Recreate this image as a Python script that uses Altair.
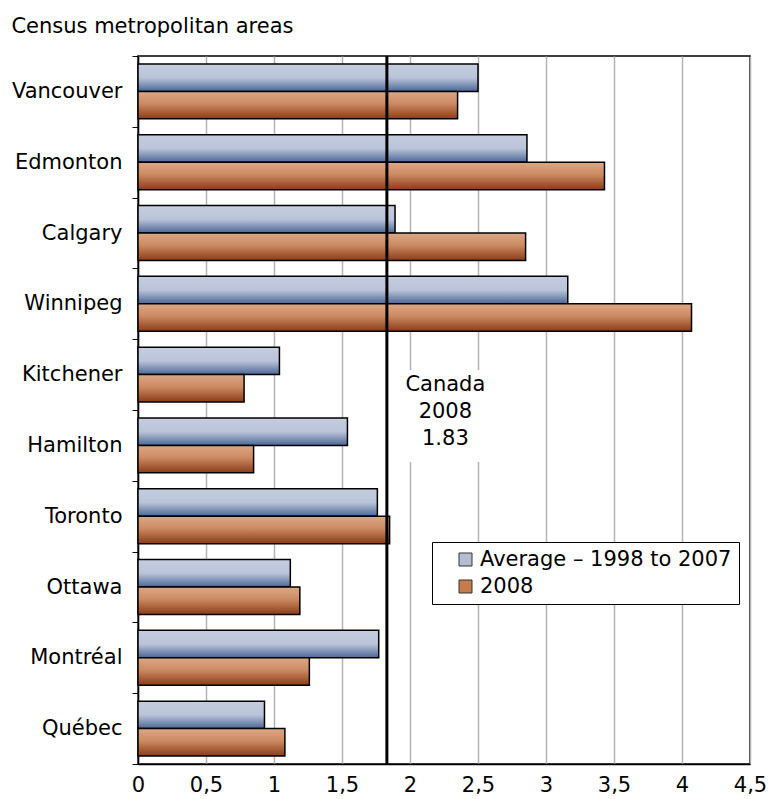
import altair as alt
import pandas as pd

cities = ["Vancouver", "Edmonton", "Calgary", "Winnipeg", "Kitchener",
          "Hamilton", "Toronto", "Ottawa", "Montréal", "Québec"]
avg_1998_2007 = [2.50, 2.86, 1.89, 3.16, 1.04, 1.54, 1.76, 1.12, 1.77, 0.93]
val_2008 = [2.35, 3.43, 2.85, 4.07, 0.78, 0.85, 1.85, 1.19, 1.26, 1.08]
series = ["Average \u2013 1998 to 2007", "2008"]
canada_2008 = 1.83
x_ticks = [0, 0.5, 1, 1.5, 2, 2.5, 3, 3.5, 4, 4.5]

rows = []
for c, a, b in zip(cities, avg_1998_2007, val_2008):
    rows.append({"city": c, "series": series[0], "value": a})
    rows.append({"city": c, "series": series[1], "value": b})
df = pd.DataFrame(rows)

FONT = "DejaVu Sans"
FS = 21

grad_avg = alt.LinearGradient(
    gradient="linear", x1=0, y1=0, x2=0, y2=1,
    stops=[alt.GradientStop(offset=0, color="#c5cddf"),
           alt.GradientStop(offset=0.5, color="#bac4d9"),
           alt.GradientStop(offset=1, color="#4b6696")])
grad_2008 = alt.LinearGradient(
    gradient="linear", x1=0, y1=0, x2=0, y2=1,
    stops=[alt.GradientStop(offset=0, color="#dca885"),
           alt.GradientStop(offset=0.45, color="#cc8a62"),
           alt.GradientStop(offset=1, color="#8a3c18")])

y_enc = alt.Y("city:N", sort=cities, title=None,
              scale=alt.Scale(paddingInner=0, paddingOuter=0),
              axis=alt.Axis(tickBand="extent", labelFont=FONT, labelFontSize=FS,
                            labelColor="#000", domainColor="#000", tickColor="#000",
                            tickSize=6, labelPadding=10, grid=False, domainWidth=1.5))
x_enc = alt.X("value:Q", title=None,
              scale=alt.Scale(domain=[0, 4.5], nice=False),
              axis=alt.Axis(values=x_ticks,
                            labelExpr="replace(format(datum.value, '~g'), '.', ',')",
                            labelFont=FONT, labelFontSize=FS, labelColor="#000",
                            ticks=False, labelPadding=10, domainColor="#000",
                            domainWidth=1.5, gridColor="#b4b4b4", gridWidth=1.5,
                            labelFlush=False))
yoff = alt.YOffset("series:N", sort=series,
                   scale=alt.Scale(domain=series, paddingOuter=0.29, paddingInner=0))

base = alt.Chart(df)

bars_avg = base.transform_filter(alt.datum.series == series[0]).mark_bar(
    color=grad_avg, stroke="#000", strokeWidth=1.5
).encode(y=y_enc, x=x_enc, yOffset=yoff)

bars_2008 = base.transform_filter(alt.datum.series == series[1]).mark_bar(
    color=grad_2008, stroke="#000", strokeWidth=1.5
).encode(y=y_enc, x=x_enc, yOffset=yoff)

legend_layer = base.mark_bar(opacity=0).encode(
    y=y_enc, x=x_enc, yOffset=yoff,
    color=alt.Color("series:N", sort=series, title=None,
                    scale=alt.Scale(domain=series, range=["#b3bdd4", "#c77a4c"]),
                    legend=alt.Legend(title=None, orient="none", legendX=294, legendY=486,
                                      symbolType="square", symbolSize=169,
                                      symbolOpacity=1, symbolStrokeColor="#333",
                                      symbolStrokeWidth=1, symbolOffset=16,
                                      labelFont=FONT, labelFontSize=FS, labelColor="#000",
                                      strokeColor="#000", fillColor="#fff",
                                      padding=7, rowPadding=5, labelOffset=4,
                                      labelLimit=400)))

canada_df = pd.DataFrame({"value": [canada_2008], "label": [["Canada", "2008", "1.83"]]})

rule = alt.Chart(canada_df).mark_rule(color="#000", strokeWidth=3).encode(x=x_enc)

box = alt.Chart(canada_df).mark_rect(color="#fff").encode(
    x=alt.datum(1.87), x2=alt.datum(2.62),
    y=alt.value(314), y2=alt.value(406))

txt = alt.Chart(canada_df).mark_text(
    font=FONT, fontSize=FS, color="#000", align="center", baseline="middle", lineHeight=27
).encode(x=alt.datum(2.26), y=alt.value(329), text="label:N")

chart = alt.layer(bars_avg, bars_2008, legend_layer, box, txt, rule).properties(
    width=612, height=708,
    padding={"left": 3, "top": 8, "right": 0, "bottom": 0},
    title=alt.TitleParams("Census metropolitan areas", anchor="start", frame="bounds",
                          font=FONT, fontSize=FS, fontWeight="normal", color="#000",
                          offset=8)
).configure_view(stroke="#000", strokeWidth=1.5)

chart.save("out.html", embed_options={"renderer": "svg", "actions": False})
